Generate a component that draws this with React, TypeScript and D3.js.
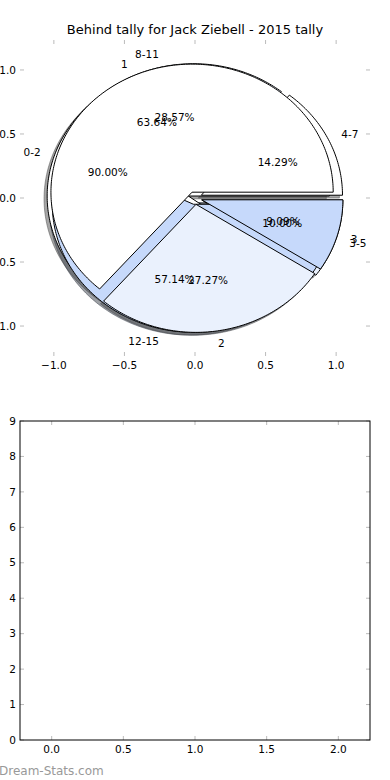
import React from 'react';
import * as d3 from 'd3';

const W = 390;
const H = 780;

const chartTitle = 'Behind tally for Jack Ziebell - 2015 tally';

// three tallies, all drawn into the same axes, in this order
const marginLabels = ['0-2', '3-5'];
const marginValues = [9, 1];
const quarterLabels = ['4-7', '8-11', '12-15'];
const quarterValues = [1, 2, 4];
const countLabels = ['1', '2', '3'];
const countValues = [7, 3, 1];

const sliceColors = ['#ffffff', '#eaf1fd', '#c6d9fb'];

const pieTicks = [-1, -0.5, 0, 0.5, 1];
const barXTicks = [0, 0.5, 1, 1.5, 2];
const barYTicks = [0, 1, 2, 3, 4, 5, 6, 7, 8, 9];

const explode = 0.05;
const shadowShift = -0.022;

const font = 'DejaVu Sans';
const tickGray = '#bbbbbb';

const pies = [
  { labels: marginLabels, values: marginValues },
  { labels: quarterLabels, values: quarterValues },
  { labels: countLabels, values: countValues },
];

const px = d3.scaleLinear().domain([-1.24, 1.24]).range([20, 370]);
const py = d3.scaleLinear().domain([-1.234, 1.234]).range([356, 40]);

const bx = d3.scaleLinear().domain([-0.221, 2.221]).range([20, 370]);
const by = d3.scaleLinear().domain([0, 9]).range([740, 421]);

const fmt1 = d3.format('.1f');
const pct = d3.format('.2f');

const pieGen = d3.pie<number>().sort(null).value((d) => d);

// matplotlib style: angles counter-clockwise from 3 o'clock
function wedgePath(cx: number, cy: number, a0: number, a1: number, dx = 0, dy = 0) {
  const n = Math.max(2, Math.ceil((a1 - a0) / (Math.PI / 180)));
  const pts: [number, number][] = [[cx + dx, cy + dy]];
  for (let k = 0; k <= n; k++) {
    const t = a0 + ((a1 - a0) * k) / n;
    pts.push([cx + dx + Math.cos(t), cy + dy + Math.sin(t)]);
  }
  const line = d3
    .line<[number, number]>()
    .x((p) => px(p[0]))
    .y((p) => py(p[1]));
  return line(pts) + 'Z';
}

const slices = pies.flatMap((pie, pi) =>
  pieGen(pie.values).map((a, i) => {
    const mid = (a.startAngle + a.endAngle) / 2;
    const cx = explode * Math.cos(mid);
    const cy = explode * Math.sin(mid);
    const total = d3.sum(pie.values);
    return {
      key: `${pi}-${i}`,
      color: sliceColors[i % sliceColors.length],
      path: wedgePath(cx, cy, a.startAngle, a.endAngle),
      shadow: wedgePath(cx, cy, a.startAngle, a.endAngle, shadowShift, shadowShift),
      label: pie.labels[i],
      lx: cx + 1.1 * Math.cos(mid),
      ly: cy + 1.1 * Math.sin(mid),
      pct: pct((100 * pie.values[i]) / total) + '%',
      tx: cx + 0.6 * Math.cos(mid),
      ty: cy + 0.6 * Math.sin(mid),
    };
  })
);

function shade(c: string) {
  const r = d3.rgb(c);
  return d3.rgb(r.r * 0.3, r.g * 0.3, r.b * 0.3).toString();
}

export default function App() {
  return (
    <svg
      width={W}
      height={H}
      style={{ position: 'absolute', left: 0, top: 0, background: '#fff' }}
      fontFamily={font}
    >
      <rect width={W} height={H} fill="#fff" />
      <text x={195} y={34} fontSize={13} textAnchor="middle">
        {chartTitle}
      </text>

      {/* pie axes */}
      <g>
        {slices.map((s) => (
          <path
            key={'sh' + s.key}
            d={s.shadow}
            fill={shade(s.color)}
            fillOpacity={0.5}
            stroke={shade(s.color)}
            strokeOpacity={0.5}
            strokeWidth={1}
          />
        ))}
        {slices.map((s) => (
          <path key={s.key} d={s.path} fill={s.color} stroke="#000" strokeWidth={1} strokeLinejoin="miter" />
        ))}
        {slices.map((s) => (
          <text
            key={'l' + s.key}
            x={px(s.lx)}
            y={py(s.ly)}
            dy="0.35em"
            fontSize={10.5}
            textAnchor={s.lx > 0 ? 'start' : 'end'}
          >
            {s.label}
          </text>
        ))}
        {slices.map((s) => (
          <text key={'p' + s.key} x={px(s.tx)} y={py(s.ty)} dy="0.35em" fontSize={10.5} textAnchor="middle">
            {s.pct}
          </text>
        ))}
        {pieTicks.map((t) => (
          <g key={'px' + t} stroke={tickGray}>
            <line x1={px(t)} x2={px(t)} y1={40} y2={44} />
            <line x1={px(t)} x2={px(t)} y1={356} y2={352} />
          </g>
        ))}
        {pieTicks.map((t) => (
          <g key={'py' + t} stroke={tickGray}>
            <line x1={20} x2={24} y1={py(t)} y2={py(t)} />
            <line x1={370} x2={366} y1={py(t)} y2={py(t)} />
          </g>
        ))}
        {pieTicks.map((t) => (
          <text key={'pxl' + t} x={px(t)} y={369} fontSize={10.5} textAnchor="middle">
            {fmt1(t)}
          </text>
        ))}
        {pieTicks.map((t) => (
          <text key={'pyl' + t} x={16} y={py(t)} dy="0.35em" fontSize={10.5} textAnchor="end">
            {fmt1(t)}
          </text>
        ))}
      </g>

      {/* empty bar axes */}
      <g>
        {barXTicks.map((t) => (
          <g key={'bx' + t} stroke={tickGray}>
            <line x1={bx(t)} x2={bx(t)} y1={740} y2={736} />
            <line x1={bx(t)} x2={bx(t)} y1={421} y2={425} />
          </g>
        ))}
        {barYTicks.map((t) => (
          <g key={'by' + t} stroke={tickGray}>
            <line x1={20} x2={24} y1={by(t)} y2={by(t)} />
            <line x1={370} x2={366} y1={by(t)} y2={by(t)} />
          </g>
        ))}
        <rect x={20} y={421} width={350} height={319} fill="none" stroke="#000" strokeWidth={1} />
        {barXTicks.map((t) => (
          <text key={'bxl' + t} x={bx(t)} y={753} fontSize={10.5} textAnchor="middle">
            {fmt1(t)}
          </text>
        ))}
        {barYTicks.map((t) => (
          <text key={'byl' + t} x={16} y={by(t)} dy="0.35em" fontSize={10.5} textAnchor="end">
            {t}
          </text>
        ))}
      </g>

      <text x={-1} y={775} fontSize={12} fill="#999999" fontFamily="DejaVu Sans">
        Dream-Stats.com
      </text>
    </svg>
  );
}
